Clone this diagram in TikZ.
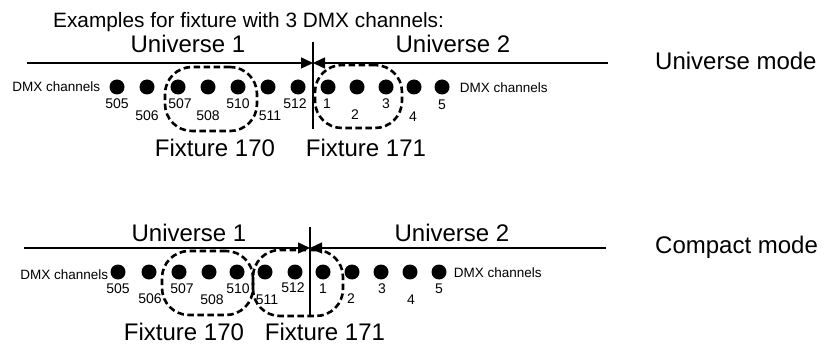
\documentclass[tikz,border=0pt]{standalone}
\usepackage{fontspec}
\setmainfont{Liberation Sans}
\usetikzlibrary{positioning}
\usetikzlibrary{arrows.meta}

\tikzset{
    % Plain filled triangles where the two universes meet
    >={Triangle[length=12pt, width=11pt]},
%
    % Text sizes, given in points as in the drawing
    title text/.style={font=\fontsize{20.8}{25}\selectfont, inner sep=0},
    big text/.style={font=\fontsize{24}{28}\selectfont, inner sep=0},
    small text/.style={font=\fontsize{13.5}{16}\selectfont, inner sep=0},
}

\begin{document}
\begin{tikzpicture}[
    x=1pt, y=-1pt,
    dot/.style={circle, fill=black, inner sep=0, minimum size=15pt},
    chan/.style={font=\fontsize{14}{16}\selectfont, inner sep=0},
    fixture/.style={
        draw, rectangle, rounded corners=27pt, line width=2.6pt,
        dash pattern=on 6.5pt off 3.5pt},
    rule/.style={line width=1.5pt},
]
\useasboundingbox (0,0) rectangle (837,347);

\node [title text, anchor=base west] (title) at (53,28)
    {Examples for fixture with 3 DMX channels:};


% Universe mode
\path
    (117,87) node [dot] (u505) {} +(0,17) node [chan] (ul505) {505}
    ++(30,0) node [dot] (u506) {} +(0,29) node [chan] (ul506) {506}
    ++(31,0) node [dot] (u507) {} +(2,17) node [chan] (ul507) {507}
    ++(30,0) node [dot] (u508) {} +(0,29) node [chan] (ul508) {508}
    ++(30,0) node [dot] (u510) {} +(0,17) node [chan] (ul510) {510}
    ++(30,0) node [dot] (u511) {} +(2,29) node [chan] (ul511) {511}
    ++(30,0) node [dot] (u512) {} +(-3,17) node [chan] (ul512) {512}
    ++(30,0) node [dot] (u1) {} +(-1,17) node [chan] (ul1) {1}
    ++(29,0) node [dot] (u2) {} +(-2,28) node [chan] (ul2) {2}
    ++(29,0) node [dot] (u3) {} +(0,17) node [chan] (ul3) {3}
    ++(28,0) node [dot] (u4) {} +(-1,30) node [chan] (ul4) {4}
    ++(28,0) node [dot] (u5) {} +(0,18) node [chan] (ul5) {5};

\node [small text, left=9pt of u505] (u dmx left) {DMX channels};
\node [small text, right=10pt of u5, yshift=-1pt] (u dmx right)
    {DMX channels};

\path
    (27,63) coordinate (u left)
    (608,63) coordinate (u right)
    (313,63) coordinate (u mid)
    (313,42) coordinate (u top)
    (313,129) coordinate (u bottom);
\draw [rule, ->] (u left) -- (u mid);
\draw [rule, ->] (u right) -- (u mid);
\draw [rule] (u top) -- (u bottom);

\node [fixture, minimum width=92pt, minimum height=64pt] (u fix a)
    at (211,99) {};
\node [fixture, minimum width=87pt, minimum height=63pt] (u fix b)
    at (358.5,96.5) {};

\node [big text, anchor=base] (u uni1) at (188,53) {Universe 1};
\node [big text, anchor=base] (u uni2) at (453,53) {Universe 2};
\node [big text, anchor=base] (u fix170) at (215,157) {Fixture 170};
\node [big text, anchor=base] (u fix171) at (366,157) {Fixture 171};
\node [big text, anchor=base west] (u mode) at (655,70) {Universe mode};


% Compact mode
\path
    (118,272) node [dot] (c505) {} +(0,17) node [chan] (cl505) {505}
    ++(31,0) node [dot] (c506) {} +(1,27) node [chan] (cl506) {506}
    ++(30,0) node [dot] (c507) {} +(3,17) node [chan] (cl507) {507}
    ++(30,0) node [dot] (c508) {} +(3,28) node [chan] (cl508) {508}
    ++(28,0) node [dot] (c510) {} +(1,17) node [chan] (cl510) {510}
    ++(28,0) node [dot] (c511) {} +(2,28) node [chan] (cl511) {511}
    ++(30,0) node [dot] (c512) {} +(-2,16) node [chan] (cl512) {512}
    ++(28,0) node [dot] (c1) {} +(0,17) node [chan] (cl1) {1}
    ++(29,0) node [dot] (c2) {} +(-1,27) node [chan] (cl2) {2}
    ++(29,0) node [dot] (c3) {} +(1,17) node [chan] (cl3) {3}
    ++(29,0) node [dot] (c4) {} +(1,28) node [chan] (cl4) {4}
    ++(29,0) node [dot] (c5) {} +(0,17) node [chan] (cl5) {5};

\node [small text, left=2pt of c505, yshift=-3pt] (c dmx left)
    {DMX channels};
\node [small text, right=7pt of c5, yshift=-1pt] (c dmx right)
    {DMX channels};

\path
    (24,248) coordinate (c left)
    (606,248) coordinate (c right)
    (310,248) coordinate (c mid)
    (310,227) coordinate (c top)
    (310,316) coordinate (c bottom);
\draw [rule, ->] (c left) -- (c mid);
\draw [rule, ->] (c right) -- (c mid);
\draw [rule] (c top) -- (c bottom);

\node [fixture, minimum width=91pt, minimum height=64pt] (c fix a)
    at (207.5,283) {};
\node [fixture, minimum width=90pt, minimum height=66pt] (c fix b)
    at (298,283) {};

\node [big text, anchor=base] (c uni1) at (189,241) {Universe 1};
\node [big text, anchor=base] (c uni2) at (452,241) {Universe 2};
\node [big text, anchor=base] (c fix170) at (184,340) {Fixture 170};
\node [big text, anchor=base] (c fix171) at (325,340) {Fixture 171};
\node [big text, anchor=base west] (c mode) at (655,254) {Compact mode};

\end{tikzpicture}
\end{document}
